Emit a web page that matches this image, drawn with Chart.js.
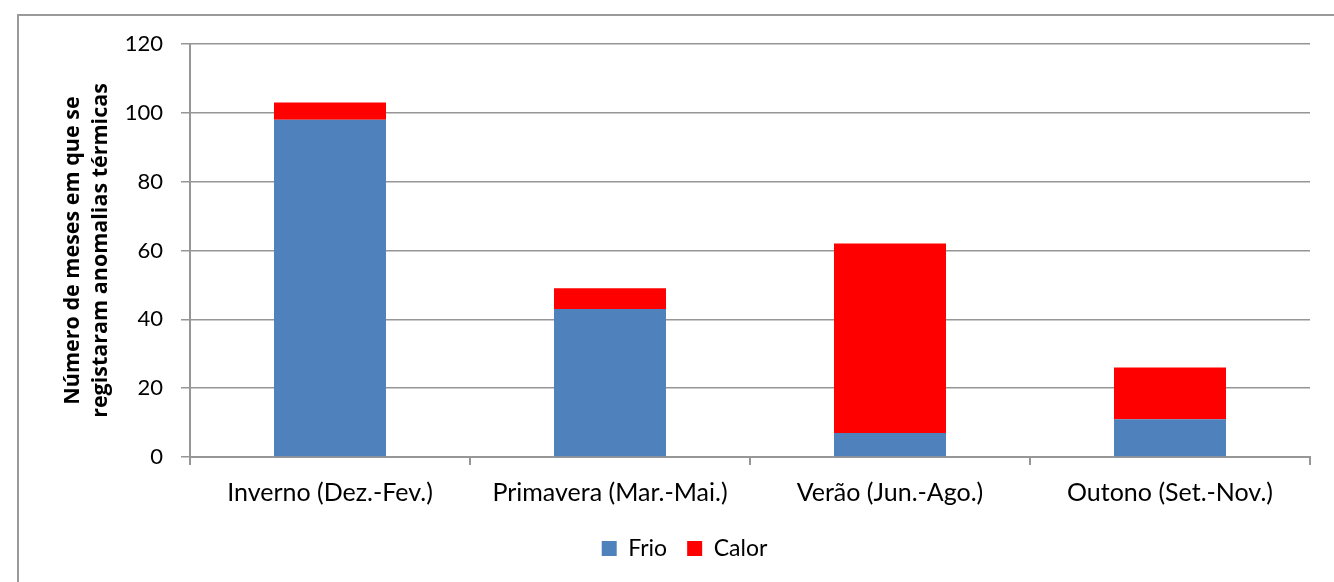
<!DOCTYPE html>
<html>
<head>
<meta charset="utf-8">
<script src="https://cdn.jsdelivr.net/npm/chart.js@4/dist/chart.umd.min.js"></script>
<style>
  html, body { margin: 0; padding: 0; background: #fff; }
  #wrap { width: 1334px; height: 582px; position: relative; }
</style>
</head>
<body>
<div id="wrap"><canvas id="c" width="1334" height="582"></canvas></div>
<script>
// Seasons and the number of months with thermal anomalies
const categories = ['Inverno (Dez.-Fev.)', 'Primavera (Mar.-Mai.)', 'Verão (Jun.-Ago.)', 'Outono (Set.-Nov.)'];
const frio = [98, 43, 7, 11];
const calor = [5, 6, 55, 15];
const yTicks = [0, 20, 40, 60, 80, 100, 120];
const yTitle = ['Número de meses em que se', 'registaram anomalias térmicas'];

const FONT = 'Lato, "Noto Sans", sans-serif';
const TITLE_FONT = '"Open Sans", "Noto Sans", sans-serif';
const GRID = '#969696';

// Frame around the whole chart
const framePlugin = {
  id: 'frame',
  beforeDraw(chart) {
    const ctx = chart.ctx;
    ctx.save();
    ctx.fillStyle = '#fff';
    ctx.fillRect(0, 0, chart.width, chart.height);
    ctx.strokeStyle = '#9a9a9a';
    ctx.lineWidth = 2;
    ctx.strokeRect(18, 15, chart.width + 20, chart.height + 20);
    ctx.restore();
  }
};

new Chart(document.getElementById('c'), {
  type: 'bar',
  data: {
    labels: categories,
    datasets: [
      { label: 'Frio', data: frio, backgroundColor: '#4F81BD', borderWidth: 0 },
      { label: 'Calor', data: calor, backgroundColor: '#FF0000', borderWidth: 0 }
    ]
  },
  plugins: [framePlugin],
  options: {
    responsive: false,
    animation: false,
    layout: { padding: { left: 59, right: 24, top: 44, bottom: 12 } },
    datasets: { bar: { categoryPercentage: 1.0, barPercentage: 0.4 } },
    plugins: {
      tooltip: { enabled: false },
      legend: {
        position: 'bottom',
        labels: {
          font: { family: FONT, size: 23 },
          color: '#000',
          boxWidth: 15,
          boxHeight: 15,
          padding: 20
        }
      }
    },
    scales: {
      x: {
        stacked: true,
        grid: {
          offset: true,
          drawOnChartArea: false,
          drawTicks: true,
          tickLength: 8,
          color: GRID,
          lineWidth: 2
        },
        border: { color: GRID, width: 2 },
        ticks: { font: { family: FONT, size: 25 }, color: '#000', padding: 13, maxRotation: 0 },
        afterFit(scale) { scale.height = 60; }
      },
      y: {
        stacked: true,
        min: 0,
        max: 120,
        afterBuildTicks(scale) { scale.ticks = yTicks.map(v => ({ value: v })); },
        grid: { color: GRID, lineWidth: 1.5, tickLength: 9, drawTicks: true },
        border: { color: GRID, width: 2 },
        ticks: { font: { family: FONT, size: 22 }, color: '#000', padding: 18 },
        title: {
          display: true,
          text: yTitle,
          font: { family: TITLE_FONT, size: 21.5, weight: 'bold', lineHeight: 1.3 },
          color: '#000',
          padding: { top: 0, bottom: 0 }
        },
        afterFit(scale) { scale.width = 131; }
      }
    }
  }
});
</script>
</body>
</html>
